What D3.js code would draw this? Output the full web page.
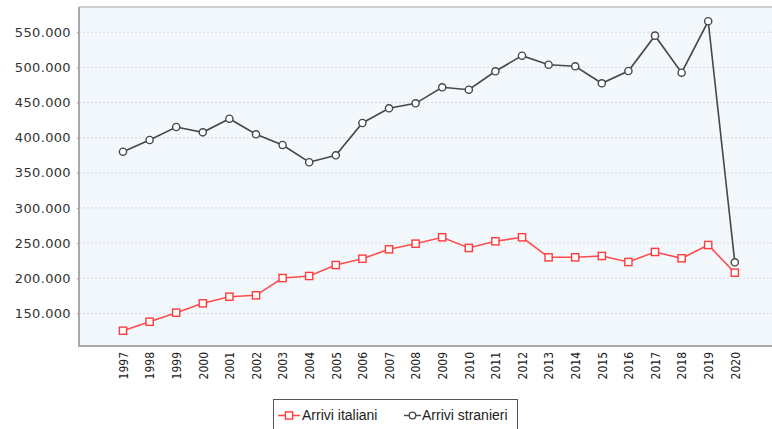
<!DOCTYPE html>
<html>
<head>
<meta charset="utf-8">
<script src="https://cdn.jsdelivr.net/npm/d3@7"></script>
<style>
  html, body { margin: 0; padding: 0; background: #ffffff; }
  svg { display: block; }
</style>
</head>
<body>
<svg id="chart" width="772" height="429"></svg>
<script>
// Arrivi annuali, 1997–2020
const years = ["1997","1998","1999","2000","2001","2002","2003","2004","2005","2006","2007","2008",
               "2009","2010","2011","2012","2013","2014","2015","2016","2017","2018","2019","2020"];
const arriviItaliani = [125200, 138000, 150900, 164200, 173600, 175600, 200200, 203100, 218700, 227700, 241100, 249100,
                        258200, 243000, 252500, 258200, 229700, 229700, 231600, 223000, 237300, 228300, 247200, 207800];
const arriviStranieri = [380000, 396700, 415200, 407600, 427000, 404800, 389600, 365000, 374900, 420900, 441800, 448900,
                         471700, 468300, 494500, 516700, 503900, 501600, 477400, 494900, 545200, 492500, 565700, 222600];
const yTicks = [150000, 200000, 250000, 300000, 350000, 400000, 450000, 500000, 550000];
const seriesNames = ["Arrivi italiani", "Arrivi stranieri"];

const svg = d3.select("#chart");
const plot = { left: 79, top: 7, right: 772, bottom: 346 };

const x = d3.scalePoint().domain(years).range([123, 734.8]);
const y = d3.scaleLinear().domain([103450, 586000]).range([plot.bottom, plot.top]);

const fmt = v => d3.format(",")(v).replace(/,/g, ".");

// plot background
svg.append("rect")
  .attr("x", plot.left).attr("y", plot.top)
  .attr("width", plot.right - plot.left).attr("height", plot.bottom - plot.top)
  .attr("fill", "#f3f8fd");

// horizontal dashed gridlines
svg.append("g").selectAll("line").data(yTicks).join("line")
  .attr("x1", plot.left).attr("x2", plot.right)
  .attr("y1", d => y(d)).attr("y2", d => y(d))
  .attr("stroke", "#d6dae0").attr("stroke-width", 1)
  .attr("stroke-dasharray", "2,2");

// frame: top edge, left and bottom axis lines
svg.append("line").attr("x1", plot.left).attr("x2", plot.right)
  .attr("y1", plot.top).attr("y2", plot.top)
  .attr("stroke", "#cfcfcf").attr("stroke-width", 2);

// y axis
const yAxis = svg.append("g").attr("transform", `translate(${plot.left},0)`)
  .call(d3.axisLeft(y).tickValues(yTicks).tickFormat(fmt).tickSize(2).tickPadding(6));
yAxis.select(".domain").remove();
yAxis.selectAll(".tick line").attr("stroke", "#999");
yAxis.selectAll(".tick text")
  .attr("font-family", "DejaVu Sans").attr("font-size", 13)
  .attr("letter-spacing", "0.35px").attr("fill", "#333");
svg.append("line").attr("x1", plot.left).attr("x2", plot.left)
  .attr("y1", plot.top).attr("y2", plot.bottom + 1)
  .attr("stroke", "#a9a9a9").attr("stroke-width", 2);

// x axis with vertical year labels
const xAxis = svg.append("g").attr("transform", `translate(0,${plot.bottom})`)
  .call(d3.axisBottom(x).tickSize(0));
xAxis.select(".domain").remove();
xAxis.selectAll(".tick text")
  .attr("font-family", "DejaVu Sans Condensed, DejaVu Sans").attr("font-size", 12)
  .attr("fill", "#222")
  .attr("transform", "rotate(-90)")
  .attr("text-anchor", "end")
  .attr("x", -6).attr("y", 0).attr("dy", "0.35em");
svg.append("line").attr("x1", plot.left - 1).attr("x2", plot.right)
  .attr("y1", plot.bottom).attr("y2", plot.bottom)
  .attr("stroke", "#a9a9a9").attr("stroke-width", 2);

const line = d3.line().x((d, i) => x(years[i])).y(d => y(d));

// Arrivi stranieri (dark line, circles)
svg.append("path").datum(arriviStranieri)
  .attr("d", line).attr("fill", "none")
  .attr("stroke", "#474747").attr("stroke-width", 1.6);
svg.append("g").selectAll("circle").data(arriviStranieri).join("circle")
  .attr("cx", (d, i) => x(years[i])).attr("cy", d => y(d)).attr("r", 3.6)
  .attr("fill", "#ffffff").attr("stroke", "#474747").attr("stroke-width", 1.4);

// Arrivi italiani (red line, squares)
svg.append("path").datum(arriviItaliani)
  .attr("d", line).attr("fill", "none")
  .attr("stroke", "#ff4d4d").attr("stroke-width", 1.6);
svg.append("g").selectAll("rect").data(arriviItaliani).join("rect")
  .attr("x", (d, i) => x(years[i]) - 3.6).attr("y", d => y(d) - 3.6)
  .attr("width", 7.2).attr("height", 7.2)
  .attr("fill", "#ffffff").attr("stroke", "#ff3b3b").attr("stroke-width", 1.4);

// legend
const legend = svg.append("g");
legend.append("rect")
  .attr("x", 273.5).attr("y", 399.5).attr("width", 244).attr("height", 40)
  .attr("fill", "#ffffff").attr("stroke", "#555").attr("stroke-width", 1);
const ly = 415.5;
// italiani entry
legend.append("line").attr("x1", 278).attr("x2", 300).attr("y1", ly).attr("y2", ly)
  .attr("stroke", "#ff4d4d").attr("stroke-width", 1.6);
legend.append("rect").attr("x", 285.4).attr("y", ly - 3.6).attr("width", 7.2).attr("height", 7.2)
  .attr("fill", "#ffffff").attr("stroke", "#ff3b3b").attr("stroke-width", 1.4);
legend.append("text").attr("x", 302).attr("y", ly).attr("dy", "0.35em")
  .attr("font-family", "Liberation Sans").attr("font-size", 14).attr("fill", "#222")
  .text(seriesNames[0]);
// stranieri entry
legend.append("line").attr("x1", 404).attr("x2", 421).attr("y1", ly).attr("y2", ly)
  .attr("stroke", "#474747").attr("stroke-width", 1.4);
legend.append("circle").attr("cx", 412.5).attr("cy", ly).attr("r", 3.3)
  .attr("fill", "#ffffff").attr("stroke", "#474747").attr("stroke-width", 1.3);
legend.append("text").attr("x", 422).attr("y", ly).attr("dy", "0.35em")
  .attr("font-family", "Liberation Sans").attr("font-size", 14).attr("fill", "#222")
  .text(seriesNames[1]);
</script>
</body>
</html>
